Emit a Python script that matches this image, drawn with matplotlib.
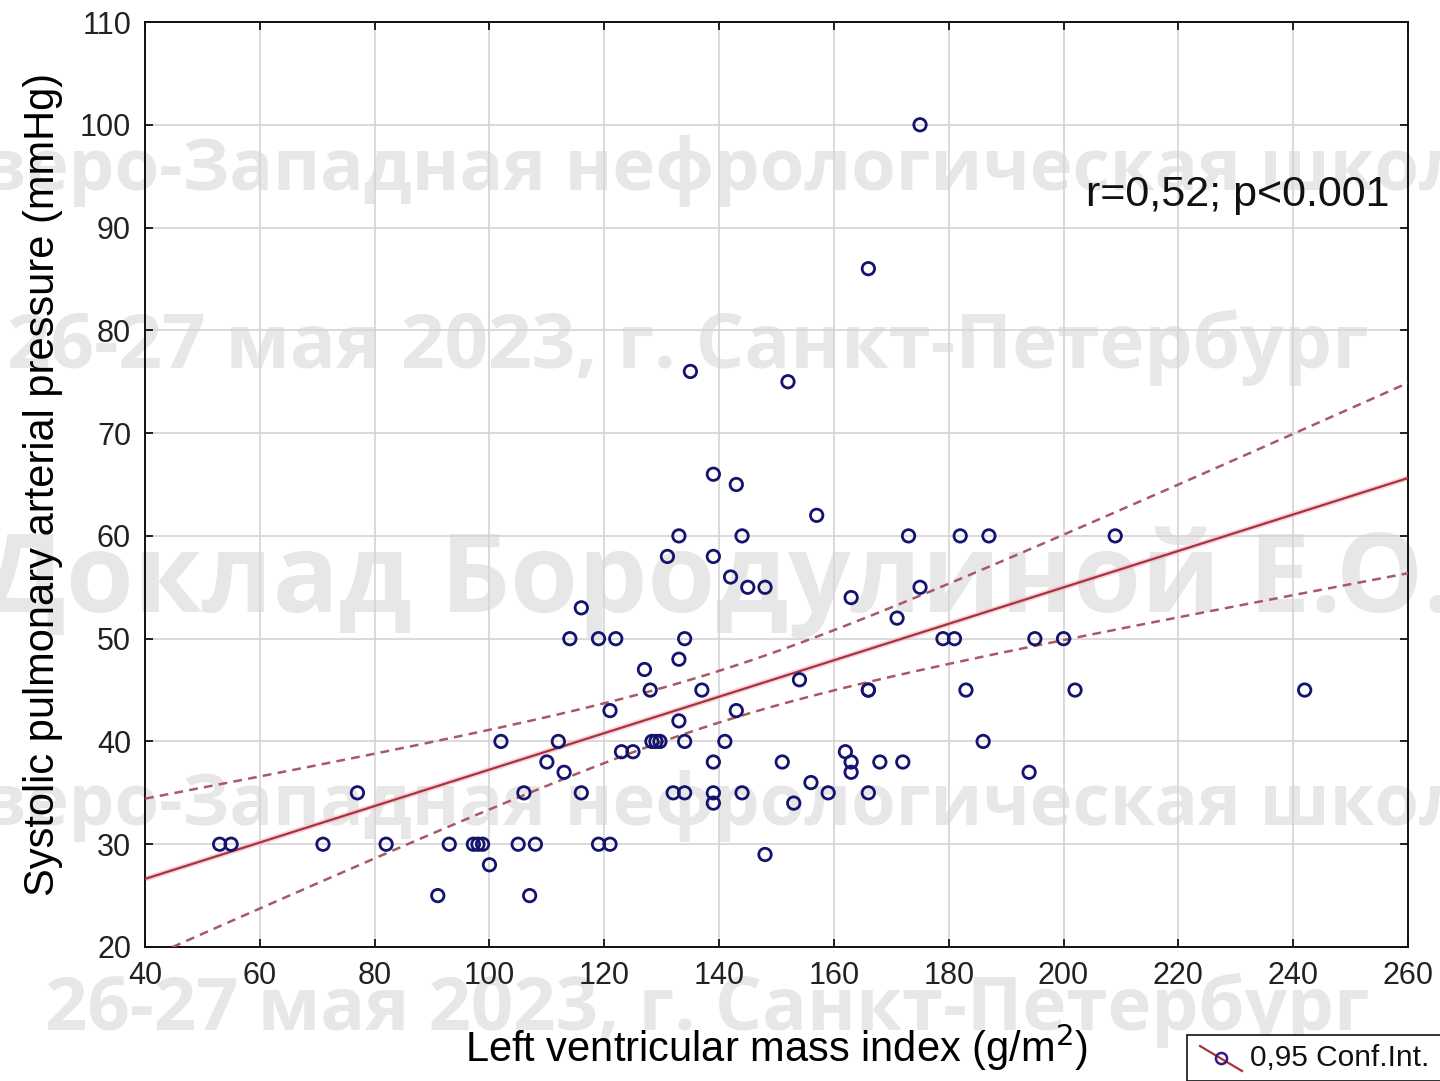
import numpy as np
import matplotlib.pyplot as plt
from matplotlib.patches import Rectangle
from matplotlib.lines import Line2D

plt.rcParams['font.family'] = ['Liberation Sans', 'DejaVu Sans']

# left ventricular mass index (g/m2) and systolic PAP (mmHg)
lvmi = [53, 55, 71, 77, 82, 91, 93, 97.2, 98, 98.8, 100, 102, 105, 106, 107, 108,
        110, 112, 113, 114, 116, 116, 119, 119, 121, 121, 122, 123, 125, 127, 128,
        128.3, 129, 129.7, 131, 132, 133, 133, 133, 134, 134, 134, 135, 137, 139,
        139, 139, 139, 139, 141, 142, 143, 143, 144, 144, 145, 148, 148, 151, 152,
        153, 154, 156, 157, 159, 162, 163, 163, 163, 166, 166, 166, 166, 168, 171,
        172, 173, 175, 175, 179, 181, 182, 183, 186, 187, 194, 195, 200, 202, 209, 242]
spap = [30, 30, 30, 35, 30, 25, 30, 30, 30, 30, 28, 40, 30, 35, 25, 30,
        38, 40, 37, 50, 53, 35, 50, 30, 30, 43, 50, 39, 39, 47, 45,
        40, 40, 40, 58, 35, 60, 48, 42, 50, 40, 35, 76, 45, 66,
        58, 38, 35, 34, 40, 56, 65, 43, 60, 35, 55, 55, 29, 38, 75,
        34, 46, 36, 62, 35, 39, 38, 37, 54, 86, 45, 35, 45, 38, 52,
        38, 60, 55, 100, 50, 50, 60, 45, 40, 60, 37, 50, 50, 45, 60, 45]

x_ticks = [40, 60, 80, 100, 120, 140, 160, 180, 200, 220, 240, 260]
y_ticks = [20, 30, 40, 50, 60, 70, 80, 90, 100, 110]

watermark_rows = [
    ("Северо-Западная нефрологическая школа", 700, 190, 52),
    ("26-27 мая 2023, г. Санкт-Петербург", 688, 368, 55),
    ("Доклад Бородулиной Е.О.", 718, 612, 79),
    ("Северо-Западная нефрологическая школа", 700, 825, 52),
    ("26-27 мая 2023, г. Санкт-Петербург", 707, 1030, 53.5),
]

W, H = 1440, 1081
fig = plt.figure(figsize=(W / 100, H / 100), dpi=100)
ax = fig.add_axes([145 / W, 1 - 947 / H, (1408 - 145) / W, (947 - 22) / H])
ax.patch.set_alpha(0)

# watermark behind the axes
for txt, px, py, fs in watermark_rows:
    fig.text(px / W, 1 - py / H, txt, ha='center', va='baseline', fontsize=fs,
             family=['Open Sans', 'DejaVu Sans'], fontweight='bold',
             color='#e7e7e7', zorder=-1)

x = np.array(lvmi, dtype=float)
y = np.array(spap, dtype=float)

# linear fit with 95% confidence band of the mean
n = len(x)
b1, b0 = np.polyfit(x, y, 1)
resid = y - (b0 + b1 * x)
s = np.sqrt(np.sum(resid ** 2) / (n - 2))
xx = np.linspace(40, 260, 200)
yy = b0 + b1 * xx
se = s * np.sqrt(1 / n + (xx - x.mean()) ** 2 / np.sum((x - x.mean()) ** 2))
t = 1.987
ax.plot(xx, yy, color='#f2b8c0', lw=4, alpha=0.6, zorder=2)
ax.plot(xx, yy, color='#a8333d', lw=1.6, zorder=3)
ax.plot(xx, yy + t * se, color='#a85a62', lw=1.8, ls=(0, (3.5, 2.5)), zorder=3)
ax.plot(xx, yy - t * se, color='#a85a62', lw=1.8, ls=(0, (3.5, 2.5)), zorder=3)

ax.scatter(x, y, s=80, facecolors='none', edgecolors='#14146e', linewidths=2.0, zorder=4)

ax.set_xlim(40, 260)
ax.set_ylim(20, 110)
ax.set_xticks(x_ticks)
ax.set_yticks(y_ticks)
ax.grid(True, color='#d4d4d4', lw=1.2)
ax.set_axisbelow(True)
ax.tick_params(direction='in', length=6, width=1.2, top=True, right=True,
               labelsize=22, pad=10, labelcolor='#222222')
for sp in ax.spines.values():
    sp.set_linewidth(1.4)
    sp.set_color('#111111')

ax.set_xlabel('Left ventricular mass index (g/m$^2$)', fontsize=30, labelpad=22)
ax.set_ylabel('Systolic pulmonary arterial pressure (mmHg)', fontsize=30, labelpad=12)

ax.text(0.985, 0.813, 'r=0,52; p<0.001', transform=ax.transAxes, ha='right',
        va='center', fontsize=31, color='#111111')

# legend box in the lower right corner
fig.add_artist(Rectangle((1187 / W, 0), 1, (1081 - 1035) / H, transform=fig.transFigure,
                         facecolor='white', edgecolor='#222222', lw=1.3))
fig.add_artist(Line2D([1200 / W, 1242 / W], [1 - 1046 / H, 1 - 1071 / H],
                      transform=fig.transFigure, color='#a8333d', lw=1.6))
fig.add_artist(Line2D([1221 / W], [1 - 1058 / H], transform=fig.transFigure,
                      marker='o', ms=8, mfc='none', mec='#3a1a80', mew=1.8))
fig.text(1250 / W, 1 - 1058 / H, '0,95 Conf.Int.', ha='left', va='center',
         fontsize=21.5, color='#111111')

fig.savefig('out.png', dpi=100)
